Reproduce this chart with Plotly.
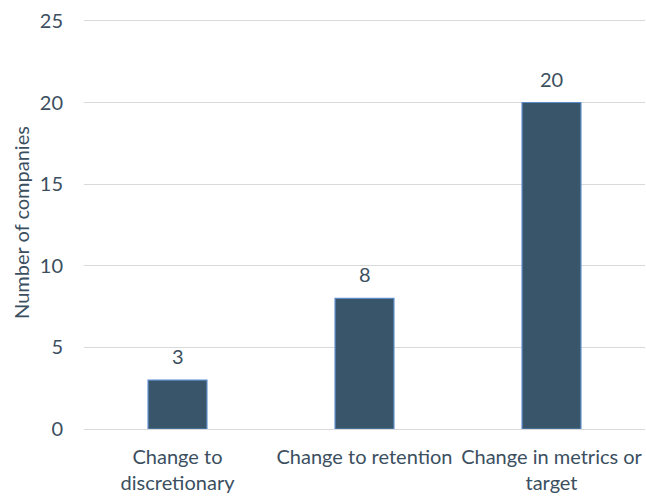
import plotly.graph_objects as go

categories = ["Change to<br>discretionary", "Change to retention", "Change in metrics or<br>target"]
values = [3, 8, 20]
y_ticks = [0, 5, 10, 15, 20, 25]

font_family = "Lato, sans-serif"
text_color = "#3b4f5f"
fs = 20

fig = go.Figure(go.Bar(
    x=categories, y=values,
    marker=dict(color="#395569", line=dict(color="#5b8bc9", width=1.2)),
))
for c, v in zip(categories, values):
    fig.add_annotation(x=c, y=v, text=str(v), showarrow=False, yanchor="middle", yshift=24,
                       font=dict(size=fs, color=text_color, family=font_family))

fig.update_layout(
    width=646, height=496,
    margin=dict(l=84, r=1, t=16, b=67),
    paper_bgcolor="white", plot_bgcolor="white",
    bargap=0.685,
    showlegend=False,
    font=dict(family=font_family, size=fs, color=text_color),
    xaxis=dict(showgrid=False, showline=False, ticks="", tickfont=dict(size=fs), tickangle=0,
               ticklabelstandoff=14),
    yaxis=dict(range=[0, 25.3], tickvals=y_ticks, showgrid=True, gridcolor="#d9d9d9", gridwidth=1,
               zeroline=True, zerolinecolor="#d9d9d9", zerolinewidth=1,
               ticks="", ticklabelstandoff=20, tickfont=dict(size=fs),
               title=dict(text="Number of companies", font=dict(size=fs), standoff=4)),
)
fig.write_html("out.html", config={"displayModeBar": False},
               post_script="document.documentElement.style.overflow='hidden';"
                           "document.body.style.margin='0';document.body.style.overflow='hidden';")
